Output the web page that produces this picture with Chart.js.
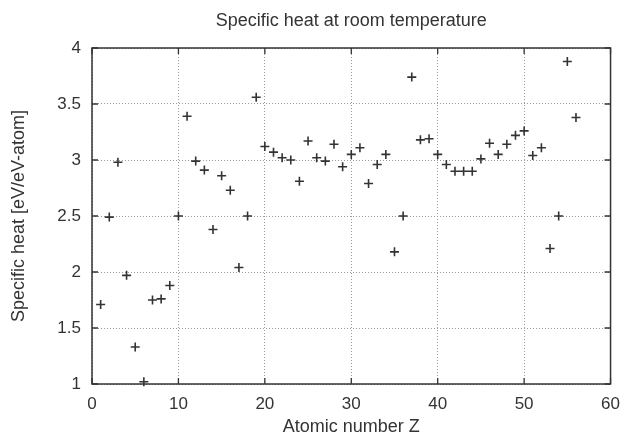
<!DOCTYPE html>
<html>
<head>
<meta charset="utf-8">
<script src="https://cdn.jsdelivr.net/npm/chart.js@4"></script>
<style>
  html, body { margin: 0; padding: 0; background: #fff; }
  #wrap { width: 630px; height: 435px; }
</style>
</head>
<body>
<div id="wrap"><canvas id="chart" width="630" height="435"></canvas></div>
<script>
// Atomic number Z and specific heat
const atomicNumbers = [
  1, 2, 3, 4, 5, 6, 7, 8, 9, 10,
  11, 12, 13, 14, 15, 16, 17, 18, 19, 20,
  21, 22, 23, 24, 25, 26, 27, 28, 29, 30,
  31, 32, 33, 34, 35, 36, 37, 38, 39, 40,
  41, 42, 43, 44, 45, 46, 47, 48, 49, 50,
  51, 52, 53, 54, 55, 56
];
const specificHeat = [
  1.71, 2.49, 2.98, 1.97, 1.33, 1.02, 1.75, 1.76, 1.88, 2.50,
  3.39, 2.99, 2.91, 2.38, 2.86, 2.73, 2.04, 2.50, 3.56, 3.12,
  3.07, 3.02, 3.00, 2.81, 3.17, 3.02, 2.99, 3.14, 2.94, 3.05,
  3.11, 2.79, 2.96, 3.05, 2.18, 2.50, 3.74, 3.18, 3.19, 3.05,
  2.96, 2.90, 2.90, 2.90, 3.01, 3.15, 3.05, 3.14, 3.22, 3.26,
  3.04, 3.11, 2.21, 2.50, 3.88, 3.38
];
const xTicks = [0, 10, 20, 30, 40, 50, 60];
const yTicks = [1, 1.5, 2, 2.5, 3, 3.5, 4];

const ink = '#333';
const family = '"Liberation Sans", Arial, sans-serif';
const font = { family: family, size: 17, weight: 'normal' };
const titleFont = { family: family, size: 18, weight: 'normal', lineHeight: 1 };

// box around the plot with inward ticks, gnuplot style
const frame = {
  id: 'frame',
  afterLayout(chart) {
    // center the title over the plot area, not the whole canvas
    if (chart.titleBlock) {
      chart.titleBlock.left = chart.chartArea.left;
      chart.titleBlock.right = chart.chartArea.right;
    }
  },
  afterDraw(chart) {
    const { ctx, chartArea: a, scales } = chart;
    ctx.save();
    ctx.strokeStyle = ink;
    ctx.lineWidth = 1.5;
    ctx.strokeRect(a.left, a.top, a.right - a.left, a.bottom - a.top);
    ctx.lineWidth = 1.3;
    ctx.beginPath();
    xTicks.forEach(v => {
      const px = scales.x.getPixelForValue(v);
      ctx.moveTo(px, a.bottom); ctx.lineTo(px, a.bottom - 6);
      ctx.moveTo(px, a.top); ctx.lineTo(px, a.top + 6);
    });
    yTicks.forEach(v => {
      const py = scales.y.getPixelForValue(v);
      ctx.moveTo(a.left, py); ctx.lineTo(a.left + 6, py);
      ctx.moveTo(a.right, py); ctx.lineTo(a.right - 6, py);
    });
    ctx.stroke();
    ctx.restore();
  }
};

new Chart(document.getElementById('chart'), {
  type: 'scatter',
  data: {
    datasets: [{
      data: atomicNumbers.map((z, i) => ({ x: z, y: specificHeat[i] })),
      pointStyle: 'cross',
      pointRadius: 4.5,
      pointHoverRadius: 4.5,
      borderColor: ink,
      backgroundColor: ink,
      pointBorderWidth: 1.6,
      clip: false
    }]
  },
  options: {
    responsive: false,
    animation: false,
    layout: { padding: { left: 0, right: 13, top: 0, bottom: 0 } },
    plugins: {
      legend: { display: false },
      tooltip: { enabled: false },
      title: {
        display: true,
        text: 'Specific heat at room temperature',
        color: ink,
        font: titleFont,
        padding: { top: 12, bottom: 18 }
      }
    },
    scales: {
      x: {
        type: 'linear',
        min: 0, max: 60,
        afterBuildTicks: s => { s.ticks = xTicks.map(v => ({ value: v })); },
        afterFit: s => { s.height = 51; },
        ticks: { color: ink, font: font, padding: 10, maxRotation: 0, callback: v => String(v) },
        grid: { color: '#999', lineWidth: 1, drawTicks: false },
        border: { display: false, dash: [1, 2] },
        title: { display: true, text: 'Atomic number Z', color: ink, font: titleFont, padding: { top: 0, bottom: -1 } }
      },
      y: {
        type: 'linear',
        min: 1, max: 4,
        afterBuildTicks: s => { s.ticks = yTicks.map(v => ({ value: v })); },
        afterFit: s => { s.width = 92; },
        ticks: { color: ink, font: font, padding: 11, callback: v => String(v) },
        grid: { color: '#999', lineWidth: 1, drawTicks: false },
        border: { display: false, dash: [1, 2] },
        title: { display: true, text: 'Specific heat [eV/eV-atom]', color: ink, font: titleFont, padding: { top: 10.5, bottom: 0 } }
      }
    }
  },
  plugins: [frame]
});
</script>
</body>
</html>
